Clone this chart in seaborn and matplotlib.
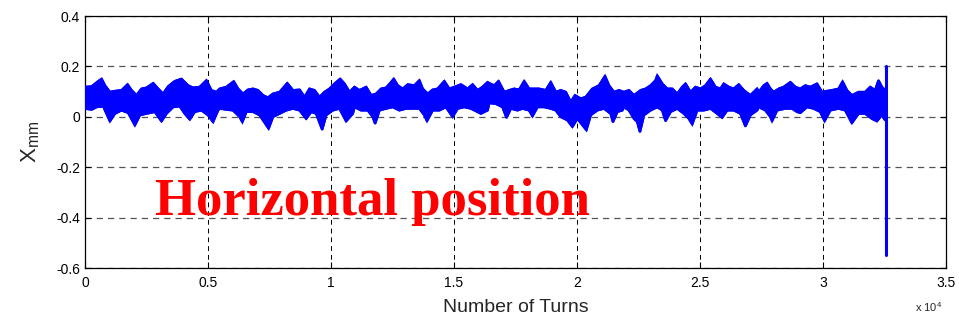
import numpy as np
import pandas as pd
import matplotlib
matplotlib.use("Agg")
import matplotlib.pyplot as plt
import seaborn as sns

# upper edge of the dense position trace (turns, mm)
upper_turns = [0, 270, 541, 676, 811, 1014, 1217, 1487, 1731, 1893, 2096, 2298, 2501, 2772,
               2974, 3177, 3380, 3650, 3921, 4191, 4394, 4664, 4935, 5138, 5340,
               5477, 5747, 6045, 6221, 6423, 6626, 6829, 7032, 7235, 7437, 7640, 7911, 8222,
               8451, 8722, 8925, 9127, 9330, 9533, 9736, 9939, 10141, 10371, 10547, 10750,
               10954, 11157, 11427, 11630, 11833, 12036, 12238, 12441, 12549, 12712, 12914,
               13117, 13388, 13590, 13726, 13928, 14131, 14334, 14604, 14807, 15010, 15280,
               15551, 15754, 15956, 16159, 16362,
               16430, 16633, 16809, 17038, 17241, 17444, 17647, 17850, 18052, 18458, 18728,
               18931, 19134, 19337, 19540, 19742, 19918, 20148, 20351, 20621, 20892, 21135,
               21297, 21500, 21703, 21906,
               22110, 22313, 22583, 22786, 22989, 23191, 23259, 23462, 23665, 23867, 24070,
               24273, 24408, 24611, 24814, 25017, 25219, 25422, 25625, 25828, 25963, 26166,
               26369, 26571, 26774, 27045, 27315,
               27384, 27587, 27722, 27857, 27992, 28195, 28398, 28668, 28871, 29074, 29277,
               29480, 29750, 29953, 30156, 30358, 30629, 30791, 30967, 31170, 31440, 31710,
               31913, 32116, 32251, 32386, 32521]
upper_mm = [0.118, 0.120, 0.141, 0.150, 0.124, 0.098, 0.102, 0.105, 0.128, 0.105, 0.085, 0.111,
            0.115, 0.133, 0.111, 0.091, 0.120, 0.141, 0.150, 0.124, 0.115, 0.118, 0.144, 0.105,
            0.098,
            0.111, 0.118, 0.140, 0.111, 0.091, 0.107, 0.111, 0.105, 0.085, 0.076, 0.091, 0.098,
            0.133, 0.105, 0.107, 0.078, 0.111, 0.105, 0.078, 0.098, 0.111, 0.131, 0.150, 0.131,
            0.098,
            0.118, 0.105, 0.118, 0.085, 0.091, 0.111, 0.115, 0.137, 0.150, 0.124, 0.111, 0.128,
            0.124, 0.144, 0.111, 0.091, 0.107, 0.111, 0.141, 0.111, 0.118, 0.128, 0.111, 0.128,
            0.105, 0.118, 0.137,
            0.133, 0.124, 0.141, 0.098, 0.105, 0.111, 0.107, 0.141, 0.111, 0.111, 0.105, 0.137,
            0.098, 0.105, 0.098, 0.059, 0.085, 0.072, 0.078, 0.111, 0.124, 0.161, 0.124, 0.098,
            0.105, 0.098,
            0.105, 0.085, 0.105, 0.111, 0.124, 0.144, 0.163, 0.131, 0.111, 0.111, 0.091, 0.118,
            0.131, 0.098, 0.118, 0.111, 0.124, 0.150, 0.118, 0.111, 0.131, 0.118, 0.111, 0.128,
            0.105, 0.085, 0.111,
            0.098, 0.124, 0.133, 0.111, 0.098, 0.111, 0.118, 0.137, 0.118, 0.111, 0.124, 0.118,
            0.131, 0.098, 0.102, 0.105, 0.111, 0.139, 0.105, 0.085, 0.098, 0.098, 0.118, 0.105,
            0.144, 0.118, 0.105]

# lower edge of the trace
lower_turns = [0, 270, 473, 744, 879, 1014, 1217, 1487, 1758, 2028, 2231, 2501, 2839, 3110,
               3312, 3583, 3853, 4056, 4259, 4462, 4732, 5002, 5205, 5408,
               5477, 5747, 6018, 6288, 6396, 6558, 6829, 7099, 7464, 7640, 7911, 8181, 8451,
               8722, 8992, 9195, 9398, 9641, 9803, 10074, 10344, 10615, 10885,
               10954, 11224, 11495, 11698, 11792, 11968, 12238, 12509, 12779, 13050, 13320,
               13590, 13793, 13901, 14131, 14402, 14672, 14942, 15145, 15416, 15686, 15956,
               16092, 16362,
               16430, 16700, 16971, 17133, 17309, 17579, 17782, 18052, 18188, 18390, 18661,
               18931, 19134, 19337, 19607, 19810, 20013, 20378, 20554, 20824, 21094, 21365,
               21459, 21635, 21838,
               21907, 22110, 22313, 22448, 22556, 22718, 22989, 23259, 23462, 23597, 23800,
               24070, 24340, 24543, 24679, 24881, 25152, 25422, 25693, 25895, 26098, 26369,
               26639, 26842, 27045, 27315,
               27384, 27654, 27857, 27925, 28128, 28466, 28736, 28939, 29074, 29344, 29615,
               29885, 30061, 30291, 30629, 30899, 31170, 31440, 31710, 31981, 32184, 32386,
               32521]
lower_mm = [0.033, 0.029, 0.039, 0.042, 0.013, -0.017, 0.013, 0.026, 0.016, -0.033, 0.007,
            0.013, 0.020, -0.017, 0.013, 0.039, 0.042, 0.013, -0.010, 0.020, 0.026, 0.007,
            -0.020, 0.026,
            0.033, 0.029, 0.026, 0.000, -0.020, 0.020, 0.020, 0.007, -0.046, 0.000, 0.013,
            0.026, 0.033, 0.026, -0.007, 0.020, 0.013, -0.050, 0.007, 0.026, 0.033, -0.017,
            0.013,
            0.039, 0.026, 0.026, 0.000, -0.026, 0.026, 0.033, 0.039, 0.026, 0.033, 0.033,
            0.033, 0.007, -0.016, 0.026, 0.026, 0.039, 0.000, 0.033, 0.039, 0.033, 0.020,
            0.013, 0.026,
            0.055, 0.052, 0.039, -0.003, 0.033, 0.026, 0.033, 0.026, 0.003, 0.039, 0.039,
            0.033, 0.026, 0.000, -0.013, -0.039, -0.007, -0.052, 0.007, 0.026, 0.033, 0.013,
            -0.020, 0.020, 0.026,
            0.039, 0.026, -0.007, -0.020, -0.059, 0.007, 0.026, 0.039, 0.026, -0.016, 0.020,
            0.033, 0.013, -0.007, -0.029, 0.026, 0.026, 0.033, 0.013, -0.003, 0.026, 0.026,
            0.013, -0.037, 0.007, 0.026,
            0.039, 0.026, 0.000, -0.016, 0.026, 0.033, 0.033, 0.020, 0.016, 0.039, 0.033,
            0.020, -0.016, 0.026, 0.033, 0.026, -0.024, 0.013, 0.013, -0.007, -0.017, 0.007,
            -0.013]

# final jump at the end of the record
spike_turns = [32550, 32550]
spike_mm = [0.2, -0.55]

x_ticks = [0, 5000, 10000, 15000, 20000, 25000, 30000, 35000]
x_labels = ["0", "0.5", "1", "1.5", "2", "2.5", "3", "3.5"]
y_ticks = [-0.6, -0.4, -0.2, 0, 0.2, 0.4]
y_labels = ["-0.6", "-0.4", "-0.2", "0", "0.2", "0.4"]

sns.set_style("ticks")
plt.rcParams['font.family'] = ['Liberation Sans', 'DejaVu Sans']
plt.rcParams['mathtext.fontset'] = 'custom'
plt.rcParams['mathtext.rm'] = 'Liberation Sans'
plt.rcParams['mathtext.it'] = 'Liberation Sans'

fig = plt.figure(figsize=(9.59, 3.2), dpi=100)
ax = fig.add_axes([0.0886, 0.1625, 0.898, 0.7875])

blue = '#0000FF'
band_x = np.concatenate([upper_turns, lower_turns[::-1]])
band_y = np.concatenate([upper_mm, lower_mm[::-1]])
ax.fill(band_x, band_y, color=blue, lw=1.8, zorder=3)

up = pd.DataFrame({'turns': upper_turns, 'mm': upper_mm})
lo = pd.DataFrame({'turns': lower_turns, 'mm': lower_mm})
sp = pd.DataFrame({'turns': spike_turns, 'mm': spike_mm})
for d in (up, lo):
    sns.lineplot(data=d, x='turns', y='mm', color=blue, lw=1.8, sort=False,
                 estimator=None, ax=ax, zorder=3)
sns.lineplot(data=sp, x='turns', y='mm', color=blue, lw=2.2, sort=False,
             estimator=None, ax=ax, zorder=3)

ax.set_xlim(0, 35000)
ax.set_ylim(-0.6, 0.4)
ax.set_xticks(x_ticks)
ax.set_xticklabels(x_labels)
ax.set_yticks(y_ticks)
ax.set_yticklabels(y_labels)
ax.tick_params(direction='in', top=True, right=True, length=4, width=0.8,
               labelsize=10, colors='black')
ax.tick_params(axis='x', pad=6)
ax.xaxis.grid(True, color='black', linestyle=(0, (5, 4)), lw=0.7)
ax.yaxis.grid(True, color='#555555', linestyle=(0, (5, 4)), lw=0.9)
for s in ax.spines.values():
    s.set_linewidth(0.9)
    s.set_color('black')

ax.set_xlabel('Number of Turns', fontsize=14, labelpad=6)
ax.set_ylabel(r'X$_{\rm mm}$', fontsize=16, labelpad=10)
fig.text(0.954, 0.025, r'x 10$^4$', fontsize=8)

ax.text(2840, -0.39, 'Horizontal position', color='red', fontsize=38,
        fontweight='bold', family='Liberation Serif', zorder=5)

fig.savefig('out.png', dpi=100)
